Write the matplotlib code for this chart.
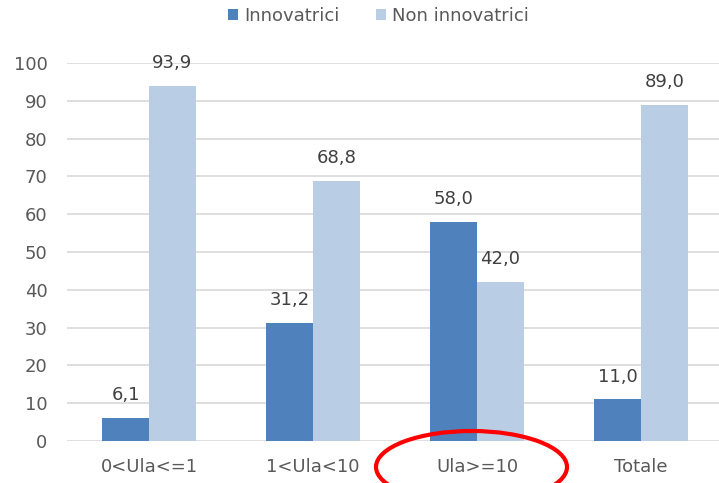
import matplotlib
matplotlib.use("Agg")
import matplotlib.pyplot as plt
from matplotlib.patches import Ellipse
import numpy as np

categories = ["0<Ula<=1", "1<Ula<10", "Ula>=10", "Totale"]
innovatrici = [6.1, 31.2, 58.0, 11.0]
non_innovatrici = [93.9, 68.8, 42.0, 89.0]
series_names = ["Innovatrici", "Non innovatrici"]
yticks = [0, 10, 20, 30, 40, 50, 60, 70, 80, 90, 100]

plt.rcParams['font.family'] = ['DejaVu Sans']

W, H = 719, 483
fig = plt.figure(figsize=(W / 100, H / 100), dpi=100)
left = 67 / W
bottom = (H - 441) / H
top_px = 63
ax = fig.add_axes([left, bottom, (723 - 67) / W, (441 - top_px) / H])

dark = "#4F81BD"
light = "#B9CDE5"
txt = "#595959"
x = np.arange(len(categories))
bw = 0.285
b1 = ax.bar(x - bw / 2, innovatrici, bw, color=dark, label=series_names[0], zorder=3)
b2 = ax.bar(x + bw / 2, non_innovatrici, bw, color=light, label=series_names[1], zorder=3)

fmt = lambda v: f"{v:.1f}".replace(".", ",")
for bars, vals in ((b1, innovatrici), (b2, non_innovatrici)):
    for r, v in zip(bars, vals):
        ax.annotate(fmt(v), (r.get_x() + r.get_width() / 2, v), xytext=(0, 16.5),
                    textcoords="offset points", ha="center", va="center",
                    fontsize=13, color="#404040", zorder=5)

ax.set_xlim(-0.5, 3.5)
ax.set_ylim(0, 100)
ax.set_yticks(yticks)
ax.set_xticks(x)
ax.set_xticklabels(categories)
ax.tick_params(axis="both", length=0, labelsize=13, colors=txt)
ax.tick_params(axis="x", pad=12.5)
ax.tick_params(axis="y", pad=14)
ax.yaxis.grid(True, color="#D9D9D9", linewidth=1.2, zorder=0)
for s in ax.spines.values():
    s.set_visible(False)

fig.legend(handles=[b1, b2], labels=series_names, loc="center",
           bbox_to_anchor=(378.5 / W, 1 - 16 / H),
           ncol=2, frameon=False, fontsize=13, handlelength=0.55, handleheight=0.55,
           handletextpad=0.35, columnspacing=2.0, labelcolor=txt)

# red ellipse around "Ula>=10"
ell = Ellipse((471.5 / W, 1 - 467 / H), 191 / W, 72 / H, transform=fig.transFigure,
              fill=False, edgecolor="#FF0000", linewidth=3, clip_on=False, zorder=10)
fig.patches.append(ell)

fig.savefig("out.png", dpi=100)
